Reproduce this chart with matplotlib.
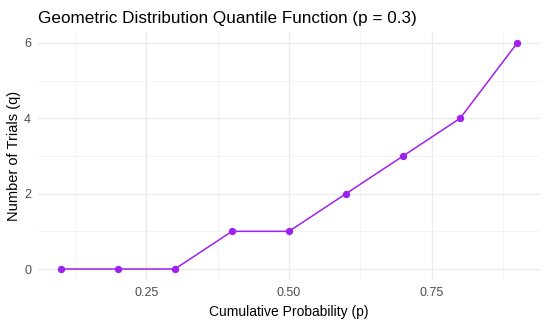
import matplotlib
matplotlib.use("Agg")
import matplotlib.pyplot as plt
from matplotlib.ticker import MultipleLocator

plt.rcParams['font.family'] = ['Liberation Sans', 'DejaVu Sans']

# cumulative probabilities and the matching geometric quantiles (p = 0.3)
probs = [0.1, 0.2, 0.3, 0.4, 0.5, 0.6, 0.7, 0.8, 0.9]
quantiles = [0, 0, 0, 1, 1, 2, 3, 4, 6]
x_ticks = [0.25, 0.50, 0.75]
x_labels = ["0.25", "0.50", "0.75"]
y_ticks = [0, 2, 4, 6]

fig = plt.figure(figsize=(5.48, 3.25), dpi=100)
ax = fig.add_axes([0.0693, 0.1375, 0.9161, 0.765])

ax.plot(probs, quantiles, color="#A020F0", linewidth=1.1, zorder=3)
ax.scatter(probs, quantiles, color="#A020F0", s=28, zorder=4, linewidths=0)

ax.set_xlim(0.06, 0.94)
ax.set_ylim(-0.3, 6.3)
ax.set_xticks(x_ticks)
ax.set_xticklabels(x_labels)
ax.set_yticks(y_ticks)
ax.xaxis.set_minor_locator(MultipleLocator(0.125))
ax.yaxis.set_minor_locator(MultipleLocator(1))

ax.grid(which="major", color="#EBEBEB", linewidth=1.0)
ax.grid(which="minor", color="#F2F2F2", linewidth=0.6)
ax.set_axisbelow(True)
for s in ax.spines.values():
    s.set_visible(False)
ax.tick_params(which="both", length=0)
ax.tick_params(axis="both", labelsize=9, labelcolor="#4D4D4D", pad=5)

ax.set_xlabel("Cumulative Probability (p)", fontsize=10, color="black", labelpad=4)
ax.set_ylabel("Number of Trials (q)", fontsize=10.5, color="black", labelpad=2)
fig.text(38 / 548, 1 - 18 / 325, "Geometric Distribution Quantile Function (p = 0.3)",
         fontsize=12.3, ha="left", va="center", color="black")

fig.savefig("out.png", dpi=100)
